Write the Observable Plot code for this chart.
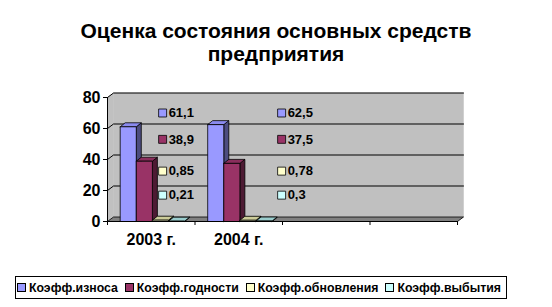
<!DOCTYPE html>
<html>
<head>
<meta charset="utf-8">
<script src="https://cdn.jsdelivr.net/npm/d3@7"></script>
<script src="https://cdn.jsdelivr.net/npm/@observablehq/plot@0.6"></script>
<style>
  html, body { margin: 0; padding: 0; background: #fff; }
  #wrap { position: relative; width: 552px; height: 307px; overflow: hidden; font-family: "Liberation Sans", Arial, sans-serif; }
  #title { position: absolute; left: 0; top: 19px; width: 552px; text-align: center; font-weight: bold; font-size: 21px; line-height: 23px; color: #000; }
  #chart { position: absolute; left: 0; top: 72px; }
  #legend { position: absolute; left: 15px; top: 276px; width: 490px; height: 21px; border: 1px solid #000; display: flex; align-items: center; font-weight: bold; font-size: 12.3px; color: #000; white-space: nowrap; }
  #legend .item { display: flex; align-items: center; margin-left: 1px; margin-right: 6px; }
  #legend .key { width: 9px; height: 9px; border: 1px solid #000; margin-right: 3px; box-sizing: border-box; }
</style>
</head>
<body>
<div id="wrap">
  <div id="title">Оценка состояния основных средств<br>предприятия</div>
  <div id="chart"></div>
  <div id="legend"></div>
</div>
<script>
// ---- data ----
const categories = ["2003 г.", "2004 г."];
const seriesNames = ["Коэфф.износа", "Коэфф.годности", "Коэфф.обновления", "Коэфф.выбытия"];
const values2003 = [61.1, 38.9, 0.85, 0.21];
const values2004 = [62.5, 37.5, 0.78, 0.3];
const yTicks = [0, 20, 40, 60, 80];
const emptyCategories = 2;

// ---- styles ----
const frontColors = ["#9999FF", "#993366", "#FFFFCC", "#CCFFFF"];
const topColors = ["#8A8AEE", "#8A2E5C", "#CCCC99", "#99CCCC"];
const sideColors = ["#4D4D80", "#4D1A33", "#80805F", "#5F8080"];

// ---- layout ----
const W = 552, H = 190;
const mL = 107, mR = 95, mT = 25, mB = 41;
const nCat = categories.length + emptyCategories;
const pxX = nCat / (W - mL - mR);          // x units per pixel
const pxY = 80 / (H - mT - mB);            // y units per pixel
const barOff = 0.145, barW = 0.184;        // within a category band
const bdx = 5 * pxX, bdy = 4 * pxY;        // bar depth
const wdx = 6 * pxX, wdy = 4.5 * pxY;      // wall depth
const labelAnchor = [0.63, 1.99];
const labelSlots = [70, 53, 32.5, 17];

const allValues = [values2003, values2004];
const marks = [];
const poly = (pts, fill, stroke = "#000", sw = 0.8) =>
  Plot.line([...pts, pts[0]], {x: d => d[0], y: d => d[1], fill, stroke, strokeWidth: sw, strokeLinejoin: "round"});

// walls & floor
marks.push(poly([[0, 0], [0, 80], [wdx, 80 + wdy], [wdx, wdy]], "#C0C0C0", "#C0C0C0", 0.5));
marks.push(poly([[wdx, wdy], [nCat + wdx, wdy], [nCat + wdx, 80 + wdy], [wdx, 80 + wdy]], "#C0C0C0", "#C0C0C0", 0.5));
marks.push(poly([[0, 0], [nCat, 0], [nCat + wdx, wdy], [wdx, wdy]], "#808080", "#000", 0.8));
// gridlines
for (const t of yTicks.slice(1)) {
  marks.push(Plot.line([[0, t], [wdx, t + wdy], [nCat + wdx, t + wdy]], {x: d => d[0], y: d => d[1], stroke: "#000", strokeWidth: 1}));
}

// bars
allValues.forEach((vals, c) => {
  vals.forEach((v, i) => {
    const x0 = c + barOff + i * barW, x1 = x0 + barW;
    marks.push(poly([[x1, 0], [x1 + bdx, bdy], [x1 + bdx, v + bdy], [x1, v]], sideColors[i]));
    marks.push(poly([[x0, v], [x1, v], [x1 + bdx, v + bdy], [x0 + bdx, v + bdy]], topColors[i]));
    marks.push(poly([[x0, 0], [x1, 0], [x1, v], [x0, v]], frontColors[i]));
  });
});

// data labels with legend keys
const labelData = [];
allValues.forEach((vals, c) => vals.forEach((v, i) => labelData.push({c, i, v, x: labelAnchor[c], y: labelSlots[i]})));
marks.push(Plot.dot(labelData, {x: "x", y: "y", symbol: "square", r: 4.5, fill: d => frontColors[d.i], stroke: "#000", strokeWidth: 0.8}));
marks.push(Plot.text(labelData, {x: "x", y: "y", text: d => String(d.v).replace(".", ","), dx: 6, textAnchor: "start", fontSize: 13, fontWeight: "bold", fill: "#000"}));

// axes
marks.push(Plot.ruleX([0], {y1: 0, y2: 80, stroke: "#000", strokeWidth: 1}));
marks.push(Plot.ruleY([0], {x1: 0, x2: nCat, stroke: "#000", strokeWidth: 1}));
marks.push(Plot.axisY({ticks: yTicks, tickSize: 4, tickPadding: 3, fontSize: 16, fontWeight: "bold", label: null}));
marks.push(Plot.axisX({ticks: d3.range(nCat + 1), tickFormat: () => "", tickSize: 4, label: null}));
marks.push(Plot.text(categories.map((t, c) => ({t, x: c + 0.5})), {x: "x", y: () => 0, text: "t", dy: 18, fontSize: 16, fontWeight: "bold", fill: "#000"}));

const chart = Plot.plot({
  width: W, height: H,
  marginLeft: mL, marginRight: mR, marginTop: mT, marginBottom: mB,
  x: {type: "linear", domain: [0, nCat]},
  y: {type: "linear", domain: [0, 80]},
  style: {fontFamily: "Liberation Sans, Arial, sans-serif", color: "#000", background: "transparent", overflow: "visible"},
  marks
});
document.getElementById("chart").appendChild(chart);

// legend
const legend = document.getElementById("legend");
seriesNames.forEach((n, i) => {
  const it = document.createElement("div");
  it.className = "item";
  const k = document.createElement("div");
  k.className = "key";
  k.style.background = frontColors[i];
  const s = document.createElement("span");
  s.textContent = n;
  it.appendChild(k); it.appendChild(s);
  legend.appendChild(it);
});
</script>
</body>
</html>
